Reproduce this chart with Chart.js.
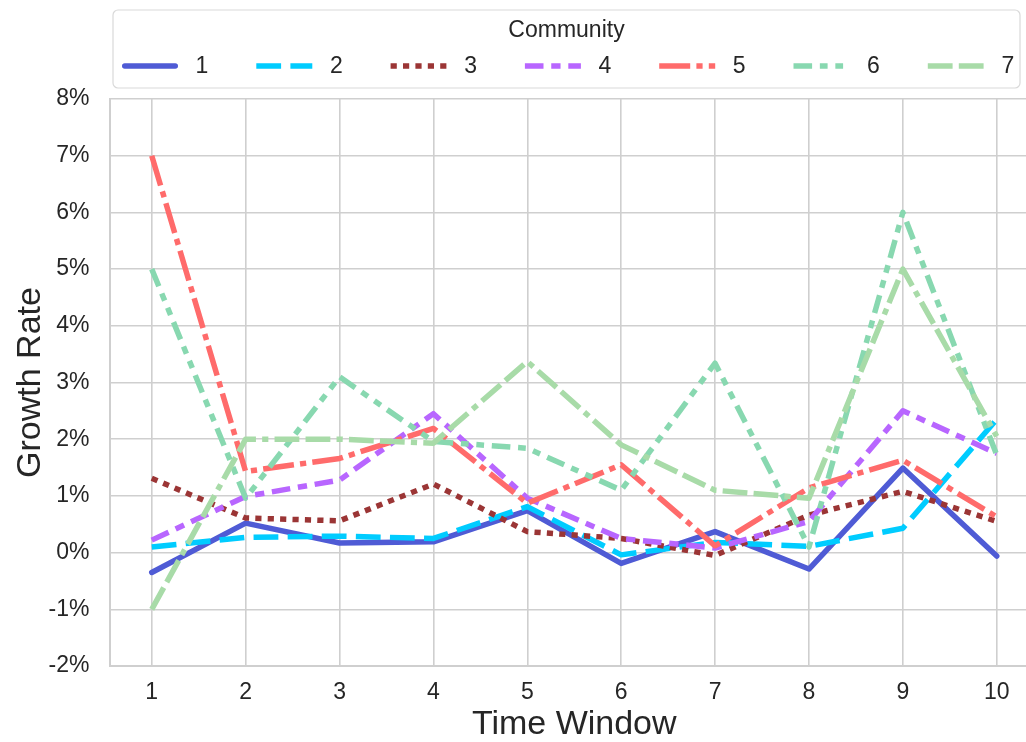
<!DOCTYPE html>
<html>
<head>
<meta charset="utf-8">
<script src="https://cdn.jsdelivr.net/npm/chart.js@4.4.0/dist/chart.umd.min.js"></script>
<style>
html,body{margin:0;padding:0;background:#fff;overflow:hidden;}
#wrap{position:relative;width:1045px;height:742px;}
</style>
</head>
<body>
<div id="wrap"><canvas id="c"></canvas></div>
<script>
const categories = [1, 2, 3, 4, 5, 6, 7, 8, 9, 10];
const yTicks = [-2, -1, 0, 1, 2, 3, 4, 5, 6, 7, 8];
const seriesNames = ["1", "2", "3", "4", "5", "6", "7"];
const s1 = [-0.35, 0.52, 0.17, 0.19, 0.74, -0.19, 0.37, -0.29, 1.49, -0.06];
const s2 = [0.10, 0.27, 0.29, 0.25, 0.81, -0.04, 0.18, 0.11, 0.43, 2.35];
const s3 = [1.31, 0.61, 0.56, 1.21, 0.37, 0.25, -0.05, 0.66, 1.08, 0.55];
const s4 = [0.22, 0.99, 1.28, 2.45, 0.96, 0.25, 0.08, 0.55, 2.50, 1.75];
const s5 = [7.00, 1.43, 1.66, 2.19, 0.87, 1.55, 0.12, 1.14, 1.63, 0.63];
const s6 = [5.00, 0.96, 3.10, 1.96, 1.84, 1.10, 3.34, 0.10, 6.00, 1.72];
const s7 = [-1.00, 2.00, 2.00, 1.93, 3.37, 1.90, 1.10, 0.96, 5.00, 2.05];
const seriesValues = [s1, s2, s3, s4, s5, s6, s7];
const colors = ["#4f5bd5", "#00ccff", "#9b3535", "#b866ff", "#ff6b6b", "#88d8b0", "#a8dba8"];
const dashUnits = [[], [4, 1.5], [1, 1], [3, 1.25, 1.5, 1.25], [5, 1, 1, 1], [3, 1.25, 1.25, 1.25, 1.25, 1.25], [4, 1, 4, 1, 1, 1]];

const LW = 5.5;
const DU = 6.2;
const FONT = "'Liberation Sans', Arial, sans-serif";
const TXT = "#262626";
const GRID = "#cfcfcf";

const datasets = seriesValues.map((vals, i) => ({
  label: seriesNames[i],
  data: categories.map((c, j) => ({x: c, y: vals[j]})),
  borderColor: colors[i],
  backgroundColor: colors[i],
  borderWidth: LW,
  borderDash: dashUnits[i].map(v => v * DU),
  borderCapStyle: i === 0 ? 'round' : 'butt',
  borderJoinStyle: 'round',
  pointRadius: 0,
  pointHoverRadius: 0,
  tension: 0,
  fill: false,
  order: seriesValues.length - i
}));

const legendPlugin = {
  id: 'customLegend',
  afterDraw(chart) {
    const ctx = chart.ctx;
    ctx.save();
    const bx = 113, by = 10, bw = 907, bh = 78, r = 5;
    ctx.beginPath();
    ctx.moveTo(bx + r, by);
    ctx.arcTo(bx + bw, by, bx + bw, by + bh, r);
    ctx.arcTo(bx + bw, by + bh, bx, by + bh, r);
    ctx.arcTo(bx, by + bh, bx, by, r);
    ctx.arcTo(bx, by, bx + bw, by, r);
    ctx.closePath();
    ctx.fillStyle = "rgba(255,255,255,0.85)";
    ctx.fill();
    ctx.strokeStyle = "#d9d9d9";
    ctx.lineWidth = 1.2;
    ctx.stroke();
    ctx.fillStyle = TXT;
    ctx.font = "23px " + FONT;
    ctx.textAlign = "center";
    ctx.textBaseline = "middle";
    ctx.fillText("Community", 566.5, 31);
    chart.data.datasets.forEach((ds, i) => {
      const x0 = 122 + i * 134.3;
      const y = 66;
      ctx.beginPath();
      ctx.setLineDash(ds.borderDash || []);
      ctx.lineDashOffset = 0;
      ctx.lineCap = ds.borderCapStyle;
      ctx.strokeStyle = ds.borderColor;
      ctx.lineWidth = LW;
      const pad = ds.borderCapStyle === 'round' ? LW / 2 : 0;
      ctx.moveTo(x0 + pad, y);
      ctx.lineTo(x0 + 56 - pad, y);
      ctx.stroke();
      ctx.setLineDash([]);
      ctx.fillStyle = TXT;
      ctx.font = "23px " + FONT;
      ctx.textAlign = "center";
      ctx.fillText(ds.label, x0 + 80, y + 1);
    });
    ctx.restore();
  }
};

new Chart(document.getElementById('c'), {
  type: 'line',
  data: { datasets },
  options: {
    responsive: true,
    maintainAspectRatio: false,
    animation: false,
    layout: { padding: { top: 99, right: 6, bottom: 0, left: 0 } },
    plugins: { legend: { display: false }, tooltip: { enabled: false } },
    scales: {
      x: {
        type: 'linear',
        min: 0.55,
        max: 10.45,
        afterBuildTicks(scale) { scale.ticks = categories.map(v => ({value: v})); },
        afterFit(scale) { scale.height = 76; },
        ticks: {
          color: TXT,
          font: { size: 23, family: FONT },
          padding: 13,
          callback: v => String(v)
        },
        grid: { color: GRID, lineWidth: 1.6, drawTicks: false },
        border: { color: GRID, width: 2 },
        title: {
          display: true,
          text: 'Time Window',
          color: TXT,
          font: { size: 34, family: FONT, lineHeight: 1 },
          padding: { top: 0, bottom: 0 }
        }
      },
      y: {
        type: 'linear',
        min: -2,
        max: 8,
        afterBuildTicks(scale) { scale.ticks = yTicks.map(v => ({value: v})); },
        afterFit(scale) { scale.width = 109.5; },
        ticks: {
          color: TXT,
          font: { size: 23, family: FONT },
          padding: 20,
          callback: v => v + '%'
        },
        grid: { color: GRID, lineWidth: 1.6, drawTicks: false },
        border: { color: GRID, width: 2 },
        title: {
          display: true,
          text: 'Growth Rate',
          color: TXT,
          font: { size: 34, family: FONT, lineHeight: 1 },
          padding: { top: 14, bottom: 0 }
        }
      }
    }
  },
  plugins: [legendPlugin]
});
</script>
</body>
</html>
